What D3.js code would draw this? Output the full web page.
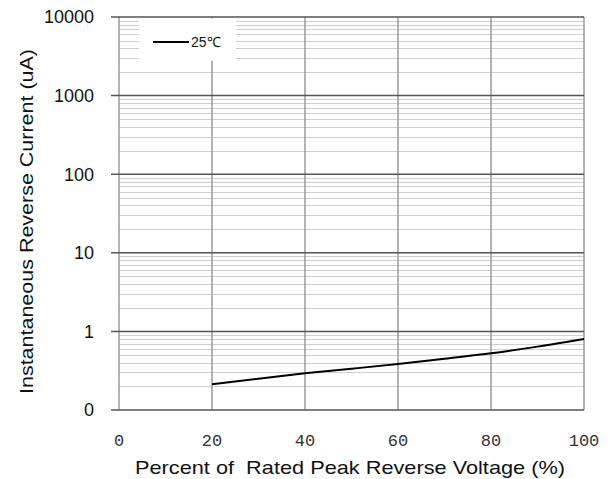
<!DOCTYPE html>
<html><head><meta charset="utf-8">
<script src="https://cdn.jsdelivr.net/npm/d3@7/dist/d3.min.js"></script>
<style>body{margin:0;background:#fff}svg{display:block}</style>
</head><body>
<script>
const xTicks = [0, 20, 40, 60, 80, 100];
const yTicks = [0.1, 1, 10, 100, 1000, 10000];
const yTickLabels = ["0", "1", "10", "100", "1000", "10000"];
const seriesX = [20, 30, 40, 50, 60, 70, 80, 90, 100];
const seriesY = [0.212, 0.25, 0.293, 0.335, 0.385, 0.45, 0.526, 0.64, 0.80];
const seriesName = "25\u2103";

const W = 616, H = 479;
const m = {l:119, r:32, t:17, b:69};
const svg = d3.select("body").append("svg").attr("width", W).attr("height", H);
const x = d3.scaleLinear().domain([0,100]).range([m.l, W-m.r]);
const y = d3.scaleLog().domain([0.1,10000]).range([H-m.b, m.t]);

// minor gridlines
const minors = [];
for (let d = 0.1; d < 10000; d *= 10) for (let k = 2; k <= 9; k++) minors.push(d*k);
svg.append("g").selectAll("line").data(minors).join("line")
  .attr("x1", x(0)).attr("x2", x(100))
  .attr("y1", d=>Math.round(y(d))+0.5).attr("y2", d=>Math.round(y(d))+0.5)
  .attr("stroke", "#cfcfcf").attr("stroke-width", 1);

// vertical gridlines
svg.append("g").selectAll("line").data(xTicks).join("line")
  .attr("x1", d=>x(d)).attr("x2", d=>x(d))
  .attr("y1", y(10000)).attr("y2", y(0.1))
  .attr("stroke", "#9a9a9a").attr("stroke-width", 1.5);

// legend box (covers gridlines)
svg.append("rect").attr("x", 139).attr("y", y(10000)+1.5).attr("width", 97).attr("height", 42).attr("fill", "#fff");

// major horizontal gridlines
svg.append("g").selectAll("line").data(yTicks).join("line")
  .attr("x1", x(0)-8).attr("x2", x(100))
  .attr("y1", d=>y(d)).attr("y2", d=>y(d))
  .attr("stroke", "#555").attr("stroke-width", 1.5);

// y tick labels
svg.append("g").selectAll("text").data(yTicks).join("text")
  .attr("x", 94).attr("y", d=>y(d)).attr("dy", "0.36em")
  .attr("text-anchor", "end")
  .attr("font-family", "Liberation Sans, Arial, sans-serif").attr("font-size", 18)
  .attr("fill", "#111")
  .text((d,i)=>yTickLabels[i]);

// x tick labels
svg.append("g").selectAll("text").data(xTicks).join("text")
  .attr("x", d=>x(d)).attr("y", 446)
  .attr("text-anchor", "middle")
  .attr("font-family", "Liberation Mono, DejaVu Sans Mono, monospace").attr("font-size", 17)
  .attr("fill", "#333")
  .text(d=>d);

// series line
const pts = seriesX.map((v,i)=>[v, seriesY[i]]);
svg.append("path").datum(pts)
  .attr("d", d3.line().x(d=>x(d[0])).y(d=>y(d[1])).curve(d3.curveMonotoneX))
  .attr("fill", "none").attr("stroke", "#000").attr("stroke-width", 2);

// legend
svg.append("line").attr("x1", 153).attr("x2", 189).attr("y1", 42).attr("y2", 42)
  .attr("stroke", "#000").attr("stroke-width", 2);
svg.append("text").attr("x", 191).attr("y", 47)
  .attr("font-family", "Liberation Sans, Arial, sans-serif").attr("font-size", 14)
  .attr("fill", "#111").text(seriesName);

// axis titles
svg.append("text").attr("transform", `translate(33,${(y(10000)+y(0.1))/2+8}) rotate(-90)`)
  .attr("text-anchor", "middle")
  .attr("font-family", "Liberation Sans, Arial, sans-serif").attr("font-size", 19)
  .attr("textLength", 345).attr("lengthAdjust", "spacingAndGlyphs")
  .attr("fill", "#111").text("Instantaneous Reverse Current (uA)");
svg.append("text").attr("x", 350).attr("y", 474)
  .attr("text-anchor", "middle").style("white-space", "pre")
  .attr("font-family", "Liberation Sans, Arial, sans-serif").attr("font-size", 19)
  .attr("textLength", 430).attr("lengthAdjust", "spacingAndGlyphs")
  .attr("fill", "#111").text("Percent of  Rated Peak Reverse Voltage (%)");
</script>
</body></html>
